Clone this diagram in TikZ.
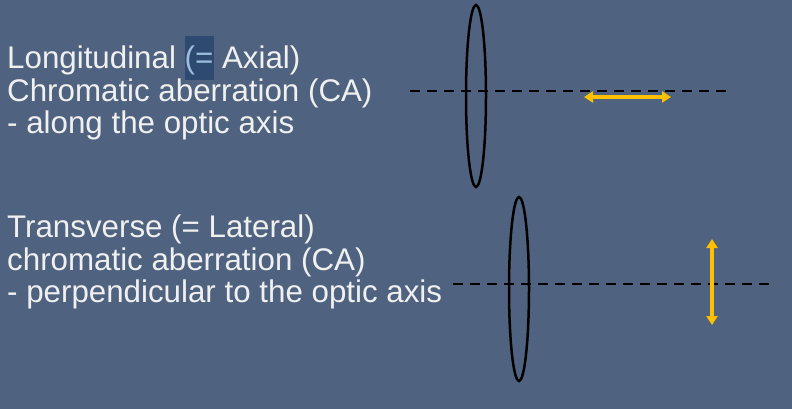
\documentclass[tikz,border=0pt]{standalone}
\usepackage{fontspec}
\setmainfont{Liberation Sans}
\usetikzlibrary{arrows.meta}
\definecolor{bg}{HTML}{4F6380}
\definecolor{txtc}{HTML}{F0F0F0}
\definecolor{hlbox}{HTML}{2E4A70}
\definecolor{hltext}{HTML}{9DBEDD}
\definecolor{gold}{HTML}{FFC000}
\tikzset{
  txt/.style={text=txtc, anchor=base west, inner sep=0pt, font=\fontsize{31.3}{33}\selectfont},
  lens/.style={draw=black, line width=2.5pt},
  axisline/.style={draw=black, line width=2.5pt, dash pattern=on 10pt off 7pt},
  shiftarrow/.style={draw=gold, line width=3.5pt, {Triangle[length=9pt,width=11pt]}-{Triangle[length=9pt,width=11pt]}}
}
\begin{document}
\begin{tikzpicture}[x=1pt,y=-1pt]
\fill[bg] (0,0) rectangle (792,409);
\useasboundingbox (0,0) rectangle (792,409);
% highlight
\fill[hlbox] (185,36) rectangle (214,80);
% text block 1
\node[txt] (a1) at (7,69) {Longitudinal {\color{hltext}(=} Axial)};
\node[txt] (a2) at (7,102) {Chromatic aberration (CA)};
\node[txt] (a3) at (7,134) {- along the optic axis};
% text block 2
\node[txt] (b1) at (7,237) {Transverse (= Lateral)};
\node[txt] (b2) at (7,270) {chromatic aberration (CA)};
\node[txt] (b3) at (7,302) {- perpendicular to the optic axis};
% top diagram
\coordinate (ax1s) at (410,91);
\coordinate (ax1e) at (731,91);
\draw[axisline] (ax1s) -- (ax1e);
\draw[lens] (476,96) ellipse [x radius=10, y radius=91];
\coordinate (l1s) at (584,97);
\coordinate (l1e) at (671,97);
\draw[shiftarrow] (l1s) -- (l1e);
% bottom diagram
\coordinate (ax2s) at (453,284);
\coordinate (ax2e) at (774,284);
\draw[axisline] (ax2s) -- (ax2e);
\draw[lens] (519,289) ellipse [x radius=10, y radius=92];
\coordinate (t2s) at (712,239);
\coordinate (t2e) at (712,325);
\draw[shiftarrow] (t2s) -- (t2e);
\end{tikzpicture}
\end{document}
